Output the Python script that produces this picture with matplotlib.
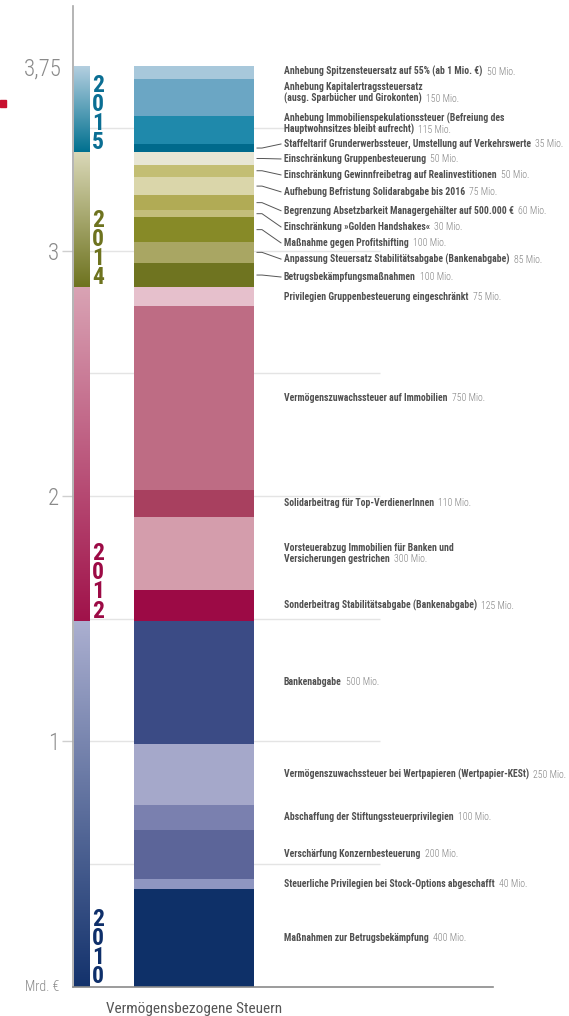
""" Vermögensbezogene Steuern: stacked column of measures by year,
    with a thin gradient strip marking each year's block.
"""
import numpy as np
import matplotlib.pyplot as plt
from matplotlib.colors import LinearSegmentedColormap
from matplotlib.patches import Rectangle

plt.rcParams['font.family'] = ['Roboto Condensed', 'Liberation Sans', 'DejaVu Sans']

########
# Data #
########
years = ['2010', '2012', '2014', '2015']

labels_2010 = ['Maßnahmen zur Betrugsbekämpfung',
               'Steuerliche Privilegien bei Stock-Options abgeschafft',
               'Verschärfung Konzernbesteuerung',
               'Abschaffung der Stiftungssteuerprivilegien',
               'Vermögenszuwachssteuer bei Wertpapieren (Wertpapier-KESt)',
               'Bankenabgabe']
values_2010 = [400, 40, 200, 100, 250, 500]

labels_2012 = ['Sonderbeitrag Stabilitätsabgabe (Bankenabgabe)',
               'Vorsteuerabzug Immobilien für Banken und\nVersicherungen gestrichen',
               'Solidarbeitrag für Top-VerdienerInnen',
               'Vermögenszuwachssteuer auf Immobilien',
               'Privilegien Gruppenbesteuerung eingeschränkt']
values_2012 = [125, 300, 110, 750, 75]

labels_2014 = ['Betrugsbekämpfungsmaßnahmen',
               'Anpassung Steuersatz Stabilitätsabgabe (Bankenabgabe)',
               'Maßnahme gegen Profitshifting',
               'Einschränkung »Golden Handshakes«',
               'Begrenzung Absetzbarkeit Managergehälter auf 500.000 €',
               'Aufhebung Befristung Solidarabgabe bis 2016',
               'Einschränkung Gewinnfreibetrag auf Realinvestitionen',
               'Einschränkung Gruppenbesteuerung']
values_2014 = [100, 85, 100, 30, 60, 75, 50, 50]

labels_2015 = ['Staffeltarif Grunderwerbssteuer, Umstellung auf Verkehrswerte',
               'Anhebung Immobilienspekulationssteuer (Befreiung des\nHauptwohnsitzes bleibt aufrecht)',
               'Anhebung Kapitalertragssteuersatz\n(ausg. Sparbücher und Girokonten)',
               'Anhebung Spitzensteuersatz auf 55% (ab 1 Mio. €)']
values_2015 = [35, 115, 150, 50]

category = 'Vermögensbezogene Steuern'

##########
# Styles #
##########
colors_2010 = ['#0E3068', '#8F96C1', '#5C6599', '#7A80AF', '#A5A8CA', '#3B4B85']
colors_2012 = ['#9C0A45', '#D49DAC', '#A8405F', '#BE6C84', '#E6C0CC']
colors_2014 = ['#6F7420', '#A9A663', '#878A27', '#C3BE7A', '#B1AB55', '#DAD6AA', '#C3BE73', '#E7E6D4']
colors_2015 = ['#006A8C', '#1F89AB', '#6BA6C4', '#A8C8DB']

strip_colors = {'2010': ('#13326C', '#ABAFD0'),
                '2012': ('#A0124A', '#D9A3B4'),
                '2014': ('#6E731F', '#DAD8B8'),
                '2015': ('#00708F', '#B4CFE0')}
year_colors = {'2010': '#0E2F6A', '2012': '#9C0A45', '2014': '#6E731F', '2015': '#0A6E93'}

# Label placement for the crowded top blocks (None = segment middle)
label_pos_2014 = [2.892, 2.965, 3.031, 3.096, 3.162, 3.239, 3.308, 3.373]
label_pos_2015 = [3.434, 3.518, 3.642, 3.732]
connect_2015 = [True, False, False, False]

blocks = [
    ('2010', labels_2010, values_2010, colors_2010, None, None),
    ('2012', labels_2012, values_2012, colors_2012, None, None),
    ('2014', labels_2014, values_2014, colors_2014, label_pos_2014, [True] * 8),
    ('2015', labels_2015, values_2015, colors_2015, label_pos_2015, connect_2015),
]

# x layout (pixel-like units from the axis line)
bar_x, bar_w = 121, 120
strip_x0, strip_x1 = 1, 17
label_x = 211
px = 245.4  # pixels per Mrd.

########
# Plot #
########
fig = plt.figure(figsize=(5.69, 10.16), dpi=100)
ax = fig.add_axes([73 / 569, 29.3 / 1016, 496 / 569, 981 / 1016])

ax.hlines([0.5, 1, 1.5, 2, 2.5, 3, 3.5], 0, 307, color='#E4E4E4', lw=1, zorder=0)

bottom = 0.0
for year, labels, values, colors, lpos, connect in blocks:
    block_start = bottom
    for ii, (lab, val, col) in enumerate(zip(labels, values, colors)):
        h = val / 1000
        ax.bar(bar_x, h, bottom=bottom, width=bar_w, color=col, linewidth=0, zorder=2)
        mid = bottom + h / 2
        y = mid if lpos is None else lpos[ii]
        if connect is not None and connect[ii]:
            ax.plot([bar_x + bar_w / 2 + 3, bar_x + bar_w / 2 + 8, label_x - 3],
                    [mid, mid, y], color='#555555', lw=0.7, zorder=3)

        # Multi-line labels: value follows the last line
        lines = lab.split('\n')
        gap = 11 / px
        last = None
        for jj, line in enumerate(lines):
            ly = y + (len(lines) - 1) / 2 * gap - jj * gap
            last = ax.text(label_x, ly, line, fontsize=7.0, fontweight='bold',
                           color='#505050', ha='left', va='center')
        ax.annotate(f'{val} Mio.', xy=(1, 0), xycoords=last, xytext=(3, 0),
                    textcoords='offset points', ha='left', va='bottom',
                    fontsize=7.0, fontweight='light', color='#808080')
        bottom += h

    # Year strip with gradient
    cmap = LinearSegmentedColormap.from_list(year, strip_colors[year])
    ax.imshow(np.linspace(0, 1, 256).reshape(-1, 1), cmap=cmap, origin='lower',
              extent=[strip_x0, strip_x1, block_start, bottom], aspect='auto', zorder=2)
    ax.text(strip_x1 + 2, block_start - 0.006, '\n'.join(year), fontsize=17,
            fontweight='bold', color=year_colors[year], ha='left', va='bottom',
            linespacing=0.78, zorder=3)

ax.set_xlim(0, 496)
ax.set_ylim(0, 981 / px)

# Axes styling
for s in ['top', 'right']:
    ax.spines[s].set_visible(False)
ax.spines['left'].set_color('#A8A8A8')
ax.spines['left'].set_linewidth(1.2)
ax.spines['bottom'].set_color('#8A8A8A')
ax.spines['bottom'].set_linewidth(1.2)
ax.spines['bottom'].set_bounds(0, 420)

ax.set_yticks([1, 2, 3], labels=['1', '2', '3'])
ax.set_yticks([3.75], labels=['3,75'], minor=True)
ax.tick_params(axis='y', which='major', length=8, width=1, color='#CFCFCF',
               labelsize=16.5, labelcolor='#8A8A8A', pad=2)
ax.tick_params(axis='y', which='minor', length=0, labelsize=16.5,
               labelcolor='#8A8A8A', pad=8)
for t in ax.get_yticklabels(which='both'):
    t.set_fontweight('light')
ax.set_xticks([bar_x], labels=[category])
ax.tick_params(axis='x', length=0, labelsize=11, labelcolor='#555555', pad=11)

ax.annotate('Mrd. €', xy=(0, 0), xycoords=('axes fraction', 'data'),
            xytext=(-10, 0), textcoords='offset points', ha='right', va='center',
            fontsize=10, fontweight='light', color='#8A8A8A')

# small red marker at the left edge
fig.patches.append(Rectangle((0, 1 - 107 / 1016), 6 / 569, 7 / 1016,
                             transform=fig.transFigure, color='#C8102E'))

plt.savefig('out.png', dpi=100)
